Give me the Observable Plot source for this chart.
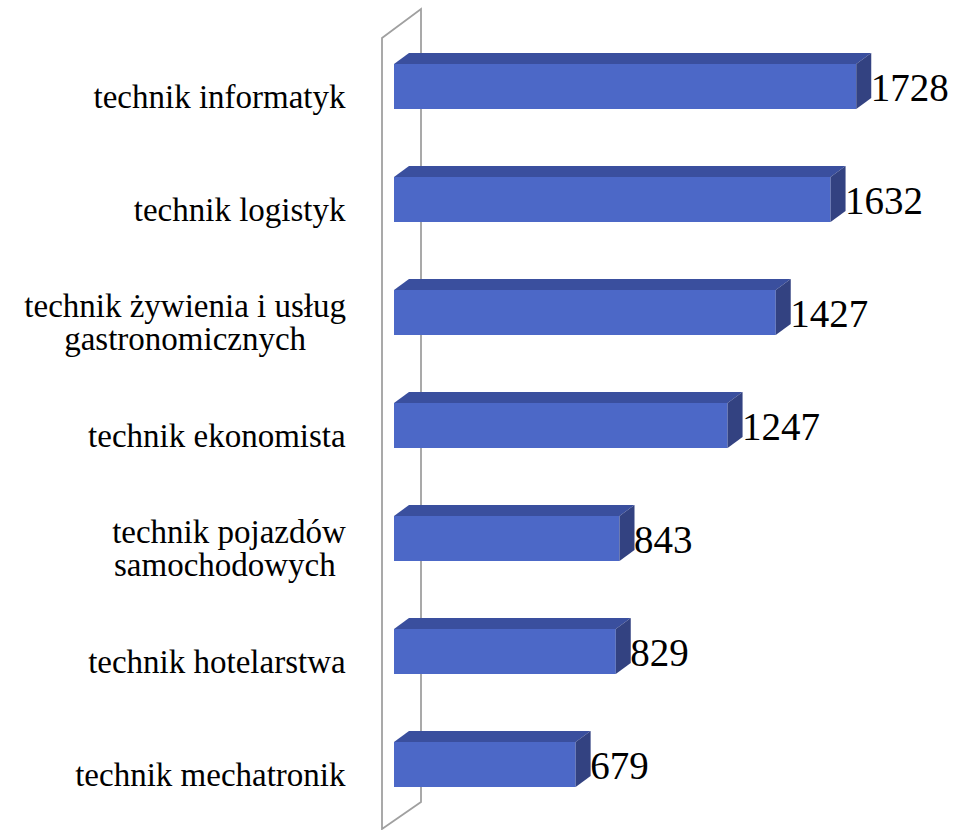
<!DOCTYPE html>
<html>
<head>
<meta charset="utf-8">
<script src="https://cdn.jsdelivr.net/npm/d3@7"></script>
<script src="https://cdn.jsdelivr.net/npm/@observablehq/plot@0.6"></script>
<style>
  html, body { margin: 0; padding: 0; background: #fff; }
  svg { display: block; }
</style>
</head>
<body>
<div id="chart"></div>
<script>
const categories = [
  "technik informatyk",
  "technik logistyk",
  "technik żywienia i usług gastronomicznych",
  "technik ekonomista",
  "technik pojazdów samochodowych",
  "technik hotelarstwa",
  "technik mechatronik"
];
const labelLines = [
  "technik informatyk",
  "technik logistyk",
  "technik żywienia i usług\ngastronomicznych",
  "technik ekonomista",
  "technik pojazdów\nsamochodowych ",
  "technik hotelarstwa",
  "technik mechatronik"
];
const values = [1728, 1632, 1427, 1247, 843, 829, 679];

const data = categories.map((c, i) => ({cat: c, label: labelLines[i], value: values[i]}));

const FRONT = "#4C68C7", TOP = "#3A4F9E", SIDE = "#334281";
const DX = 15, DY = -11;

function draw3D(index, scales, vals, dims, context, next) {
  const g = next(index, scales, vals, dims, context);
  const rects = Array.from(g.querySelectorAll("rect"));
  const ns = "http://www.w3.org/2000/svg";
  for (const r of rects) {
    const x = +r.getAttribute("x"), y = +r.getAttribute("y");
    const w = +r.getAttribute("width"), h = +r.getAttribute("height");
    const top = document.createElementNS(ns, "polygon");
    top.setAttribute("points", `${x},${y} ${x+DX},${y+DY} ${x+w+DX},${y+DY} ${x+w},${y}`);
    top.setAttribute("fill", TOP);
    const side = document.createElementNS(ns, "polygon");
    side.setAttribute("points", `${x+w},${y} ${x+w+DX},${y+DY} ${x+w+DX},${y+h+DY} ${x+w},${y+h}`);
    side.setAttribute("fill", SIDE);
    g.appendChild(top);
    g.appendChild(side);
  }
  return g;
}

function drawWall(index, scales, vals, dims) {
  const x0 = scales.x(0);
  const ns = "http://www.w3.org/2000/svg";
  const p = document.createElementNS(ns, "polygon");
  p.setAttribute("points", `${x0-12},38 ${x0+27},9 ${x0+27},802 ${x0-12},829`);
  p.setAttribute("fill", "none");
  p.setAttribute("stroke", "#A0A0A0");
  p.setAttribute("stroke-width", 1.8);
  return p;
}

const chart = Plot.plot({
  width: 970,
  height: 830,
  marginLeft: 394,
  marginRight: 41,
  marginTop: 0,
  marginBottom: 0,
  style: {fontFamily: "'Liberation Serif', serif", background: "#fff"},
  x: {domain: [0, 2000], axis: null},
  y: {domain: categories, range: [28.8, 822.2], paddingInner: 0.603, paddingOuter: 0.3015, axis: null},
  marks: [
    Plot.ruleX([0], {render: drawWall}),
    Plot.barX(data, {x: "value", y: "cat", fill: FRONT, render: draw3D}),
    Plot.text(data, {x: "value", y: "cat", text: d => String(d.value), textAnchor: "start", dx: 14, dy: 2, fontSize: 39, fill: "#000"}),
    Plot.text(data, {y: "cat", frameAnchor: "left", text: "label", textAnchor: "middle", lineHeight: 1.0, dy: 10, fontSize: 33, fill: "#000", className: "cat-label"})
  ]
});
document.getElementById("chart").appendChild(chart);

// right-align label blocks (lines centered within the block) like the original
const svgRect = chart.getBoundingClientRect();
chart.querySelectorAll(".cat-label text").forEach(t => {
  const r = t.getBoundingClientRect();
  const right = r.right - svgRect.left;
  const shift = 346 - right;
  const tr = t.getAttribute("transform") || "";
  t.setAttribute("transform", `translate(${shift},0) ${tr}`);
});
</script>
</body>
</html>
